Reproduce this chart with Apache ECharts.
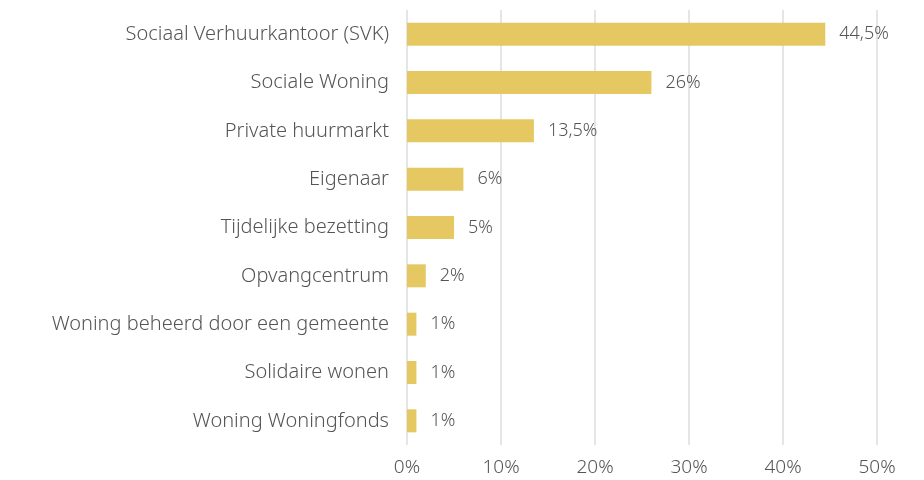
<!DOCTYPE html>
<html>
<head>
<meta charset="utf-8">
<script src="https://cdn.jsdelivr.net/npm/echarts@6/dist/echarts.min.js"></script>
<style>
html, body { margin: 0; padding: 0; background: #fff; }
#chart { width: 924px; height: 480px; }
</style>
</head>
<body>
<div id="chart"></div>
<script>
// categories top to bottom
const categories = [
    'Sociaal Verhuurkantoor (SVK)',
    'Sociale Woning',
    'Private huurmarkt',
    'Eigenaar',
    'Tijdelijke bezetting',
    'Opvangcentrum',
    'Woning beheerd door een gemeente',
    'Solidaire wonen',
    'Woning Woningfonds'
]
const values = [44.5, 26, 13.5, 6, 5, 2, 1, 1, 1]
const labels = ['44,5%', '26%', '13,5%', '6%', '5%', '2%', '1%', '1%', '1%']

const font = 'Noto Sans'
let chart = echarts.init(document.getElementById('chart'))
chart.setOption({
    animation: false,
    grid: { left: 407, right: 47, top: 10, bottom: 35 },
    xAxis: {
        type: 'value',
        min: 0,
        max: 50,
        interval: 10,
        axisLine: { show: false },
        axisTick: { show: false },
        splitLine: { lineStyle: { color: '#dcdcdc', width: 1.5 } },
        axisLabel: {
            formatter: '{value}%',
            color: '#555',
            fontSize: 19,
            fontFamily: font,
            fontWeight: 300,
            margin: 13
        }
    },
    yAxis: {
        type: 'category',
        inverse: true,
        data: categories,
        axisLine: { show: false },
        axisTick: { show: false },
        axisLabel: {
            color: '#555',
            fontSize: 20,
            fontFamily: font,
            fontWeight: 300,
            margin: 18
        }
    },
    series: [{
        type: 'bar',
        data: values,
        barWidth: 23,
        itemStyle: { color: '#e5c862' },
        label: {
            show: true,
            position: 'right',
            distance: 14,
            color: '#555',
            fontSize: 18,
            fontFamily: font,
            fontWeight: 300,
            formatter: (p) => labels[p.dataIndex]
        }
    }]
})
</script>
</body>
</html>
